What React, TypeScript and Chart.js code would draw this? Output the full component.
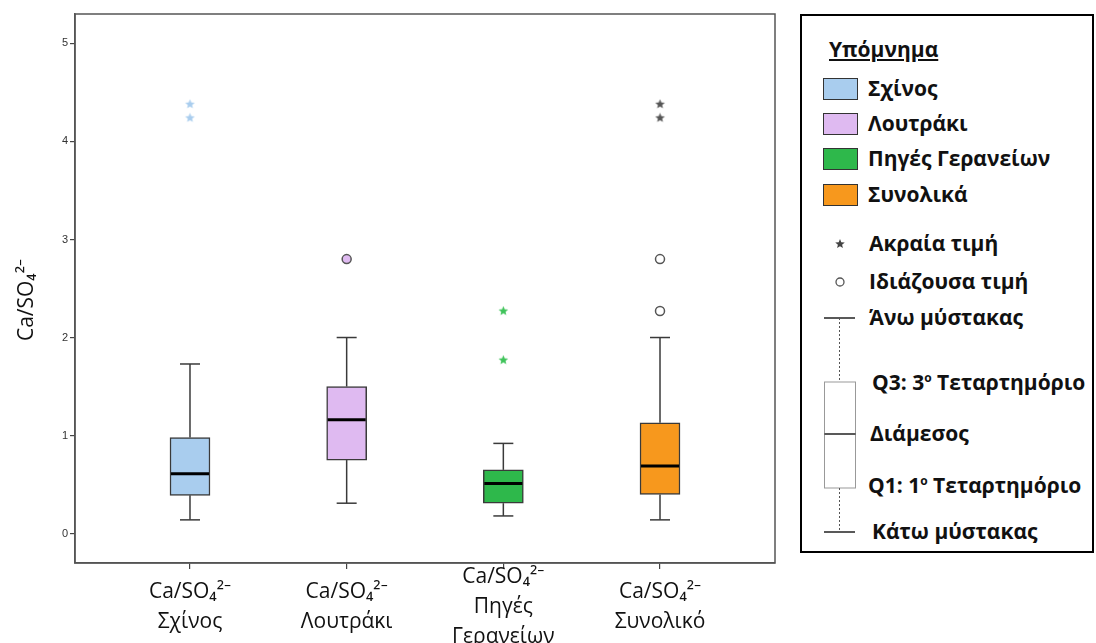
import React, { useEffect, useRef } from 'react';
import { Chart, registerables } from 'chart.js';
Chart.register(...registerables);

// ---- data ----
const categories: string[][] = [
  ['Ca/SO₄²⁻', 'Σχίνος'],
  ['Ca/SO₄²⁻', 'Λουτράκι'],
  ['Ca/SO₄²⁻', 'Πηγές', 'Γερανείων'],
  ['Ca/SO₄²⁻', 'Συνολικό'],
];
const groupNames = ['Σχίνος', 'Λουτράκι', 'Πηγές Γερανείων', 'Συνολικά'];
const whiskerLow = [0.14, 0.31, 0.18, 0.14];
const q1 = [0.39, 0.75, 0.31, 0.40];
const median = [0.61, 1.16, 0.51, 0.69];
const q3 = [0.98, 1.50, 0.65, 1.13];
const whiskerHigh = [1.73, 2.00, 0.92, 2.00];
const outlierCircles: number[][] = [[], [2.80], [], [2.80, 2.27]];
const extremeStars: number[][] = [[4.38, 4.24], [], [2.27, 1.77], [4.38, 4.24]];
const yTickValues = [0, 1, 2, 3, 4, 5];

// ---- styles ----
const boxColors = ['#a9cdee', '#dfbaf1', '#2eb84b', '#f7981d'];
const starColors = ['#a9cdee', '#dfbaf1', '#3fc35a', '#555555'];
const circleFill = ['#a9cdee', '#dfbaf1', '#2eb84b', '#ffffff'];
const lineColor = '#3a3a3a';
const labelFont = "'Open Sans', 'Noto Sans', sans-serif";

function makeStar(color: string, size = 11) {
  const c = document.createElement('canvas');
  c.width = size;
  c.height = size;
  const g = c.getContext('2d')!;
  const cx = size / 2, cy = size / 2, R = size / 2 - 0.5, r = R * 0.45;
  g.beginPath();
  for (let k = 0; k < 10; k++) {
    const ang = -Math.PI / 2 + (k * Math.PI) / 5;
    const rad = k % 2 === 0 ? R : r;
    const px = cx + rad * Math.cos(ang), py = cy + rad * Math.sin(ang);
    if (k === 0) g.moveTo(px, py); else g.lineTo(px, py);
  }
  g.closePath();
  g.fillStyle = color;
  g.fill();
  return c;
}

const boxPlugin = {
  id: 'boxExtras',
  afterDatasetsDraw(chart: any) {
    const { ctx, scales: { x, y } } = chart;
    const meta = chart.getDatasetMeta(0);
    ctx.save();
    const line = (x1: number, y1: number, x2: number, y2: number) => {
      ctx.beginPath(); ctx.moveTo(x1, y1); ctx.lineTo(x2, y2); ctx.stroke();
    };
    for (let i = 0; i < categories.length; i++) {
      const px = x.getPixelForValue(i + 1);
      const half = meta.data[i].width / 2;
      const pLow = y.getPixelForValue(whiskerLow[i]);
      const pQ1 = y.getPixelForValue(q1[i]);
      const pMed = y.getPixelForValue(median[i]);
      const pQ3 = y.getPixelForValue(q3[i]);
      const pHigh = y.getPixelForValue(whiskerHigh[i]);
      ctx.strokeStyle = lineColor;
      ctx.lineWidth = 1.5;
      line(px, pQ3, px, pHigh);
      line(px, pQ1, px, pLow);
      line(px - half / 2, pHigh, px + half / 2, pHigh);
      line(px - half / 2, pLow, px + half / 2, pLow);
      ctx.strokeStyle = '#000';
      ctx.lineWidth = 3;
      line(px - half + 1, pMed, px + half - 1, pMed);
    }
    const a = chart.chartArea;
    ctx.strokeStyle = '#555';
    ctx.lineWidth = 1.5;
    ctx.strokeRect(a.left, a.top, a.right - a.left, a.bottom - a.top);
    // y-axis title
    ctx.translate(27, 300);
    ctx.rotate(-Math.PI / 2);
    ctx.fillStyle = '#111';
    ctx.font = `21px ${labelFont}`;
    ctx.textAlign = 'center';
    ctx.textBaseline = 'middle';
    ctx.fillText('Ca/SO₄²⁻', 0, 0);
    ctx.restore();
  },
};

function buildConfig(): any {
  const datasets: any[] = [
    {
      type: 'bar',
      data: categories.map((_, i) => ({ x: i + 1, y: [q1[i], q3[i]] })),
      backgroundColor: boxColors,
      borderColor: lineColor,
      borderWidth: 1.5,
      borderSkipped: false,
      barThickness: 40,
    },
  ];
  categories.forEach((_, i) => {
    if (extremeStars[i].length) {
      datasets.push({
        type: 'scatter',
        data: extremeStars[i].map(v => ({ x: i + 1, y: v })),
        pointStyle: makeStar(starColors[i]),
        pointRadius: 5,
      });
    }
    if (outlierCircles[i].length) {
      datasets.push({
        type: 'scatter',
        data: outlierCircles[i].map(v => ({ x: i + 1, y: v })),
        pointStyle: 'circle',
        pointRadius: 4.5,
        borderWidth: 1.5,
        borderColor: '#555',
        backgroundColor: circleFill[i],
      });
    }
  });
  return {
    type: 'bar',
    data: { datasets },
    options: {
      animation: false,
      responsive: false,
      layout: { padding: { left: 0, top: 14, right: 15, bottom: 0 } },
      plugins: { legend: { display: false }, tooltip: { enabled: false } },
      scales: {
        x: {
          type: 'linear',
          min: 0.266,
          max: 4.734,
          offset: false,
          afterBuildTicks: (s: any) => { s.ticks = categories.map((_, i) => ({ value: i + 1 })); },
          afterFit: (s: any) => { s.height = 80; },
          ticks: {
            callback: (v: number) => categories[Math.round(v) - 1],
            font: { family: labelFont, size: 21, lineHeight: '30px' },
            color: '#111',
            crossAlign: 'center',
            padding: 8,
            maxRotation: 0,
          },
          grid: { offset: false, drawOnChartArea: false, drawTicks: true, tickLength: 6, color: '#444', lineWidth: 1.2 },
          border: { display: true, color: '#555', width: 1.5 },
        },
        y: {
          type: 'linear',
          min: -0.3,
          max: 5.3,
          afterBuildTicks: (s: any) => { s.ticks = yTickValues.map(v => ({ value: v })); },
          afterFit: (s: any) => { s.width = 75; },
          ticks: {
            font: { family: "'Liberation Sans', Arial, sans-serif", size: 11 },
            color: '#333',
            padding: 2,
          },
          grid: { drawOnChartArea: false, drawTicks: true, tickLength: 5, color: '#444', lineWidth: 1.2 },
          border: { display: true, color: '#555', width: 1.5 },
        },
      },
    },
    plugins: [boxPlugin],
  };
}

const txt: React.CSSProperties = {
  position: 'absolute',
  fontFamily: labelFont,
  fontWeight: 700,
  fontSize: 21,
  lineHeight: '28px',
  height: 28,
  whiteSpace: 'nowrap',
  color: '#111',
};

function LegendText({ x, cy, children }: { x: number; cy: number; children: React.ReactNode }) {
  return <div style={{ ...txt, left: x, top: cy - 15 }}>{children}</div>;
}

function Legend() {
  const swatchCenters = [72.5, 108, 143, 179];
  return (
    <div
      style={{
        position: 'absolute',
        left: 800,
        top: 14,
        width: 294,
        height: 539,
        boxSizing: 'border-box',
        border: '2px solid #000',
        background: '#fff',
      }}
    >
      <div style={{ ...txt, left: 27, top: 34 - 15, textDecoration: 'underline' }}>Υπόμνημα</div>
      {groupNames.map((n, i) => (
        <React.Fragment key={n}>
          <div
            style={{
              position: 'absolute',
              left: 21,
              top: swatchCenters[i] - 11,
              width: 35,
              height: 22,
              boxSizing: 'border-box',
              border: '1.5px solid #333',
              background: boxColors[i],
            }}
          />
          <LegendText x={66} cy={swatchCenters[i]}>{n}</LegendText>
        </React.Fragment>
      ))}
      <svg style={{ position: 'absolute', left: 0, top: 0 }} width={290} height={535}>
        {/* star */}
        <polygon
          points={Array.from({ length: 10 }, (_, k) => {
            const ang = -Math.PI / 2 + (k * Math.PI) / 5;
            const r = k % 2 === 0 ? 5 : 2.2;
            return `${38 + r * Math.cos(ang)},${228 + r * Math.sin(ang)}`;
          }).join(' ')}
          fill="#444"
        />
        {/* circle */}
        <circle cx={38} cy={266} r={4} fill="#fff" stroke="#555" strokeWidth={1.3} />
        {/* whisker illustration */}
        <line x1={22} y1={302} x2={53} y2={302} stroke="#222" strokeWidth={1.5} />
        <line x1={37.5} y1={302} x2={37.5} y2={366} stroke="#555" strokeWidth={1} strokeDasharray="2,2" />
        <rect x={22.5} y={366} width={31} height={106} fill="#fff" stroke="#999" strokeWidth={1} />
        <line x1={22.5} y1={418} x2={53.5} y2={418} stroke="#222" strokeWidth={1.5} />
        <line x1={37.5} y1={472} x2={37.5} y2={516} stroke="#555" strokeWidth={1} strokeDasharray="2,2" />
        <line x1={22} y1={516} x2={53} y2={516} stroke="#222" strokeWidth={1.5} />
      </svg>
      <LegendText x={67} cy={228}>Ακραία τιμή</LegendText>
      <LegendText x={67} cy={266}>Ιδιάζουσα τιμή</LegendText>
      <LegendText x={67} cy={302}>Άνω μύστακας</LegendText>
      <LegendText x={70} cy={367}>Q3: 3<sup style={{ fontSize: 12, lineHeight: 0 }}>ο</sup> Τεταρτημόριο</LegendText>
      <LegendText x={68} cy={418}>Διάμεσος</LegendText>
      <LegendText x={66} cy={470}>Q1: 1<sup style={{ fontSize: 12, lineHeight: 0 }}>ο</sup> Τεταρτημόριο</LegendText>
      <LegendText x={70} cy={516}>Κάτω μύστακας</LegendText>
    </div>
  );
}

export default function App() {
  const ref = useRef<HTMLCanvasElement>(null);
  useEffect(() => {
    const chart = new Chart(ref.current!, buildConfig());
    return () => chart.destroy();
  }, []);
  return (
    <div style={{ position: 'absolute', left: 0, top: 0, width: 1096, height: 643, overflow: 'hidden', background: '#fff' }}>
      <canvas ref={ref} width={790} height={643} style={{ position: 'absolute', left: 0, top: 0 }} />
      <Legend />
    </div>
  );
}
